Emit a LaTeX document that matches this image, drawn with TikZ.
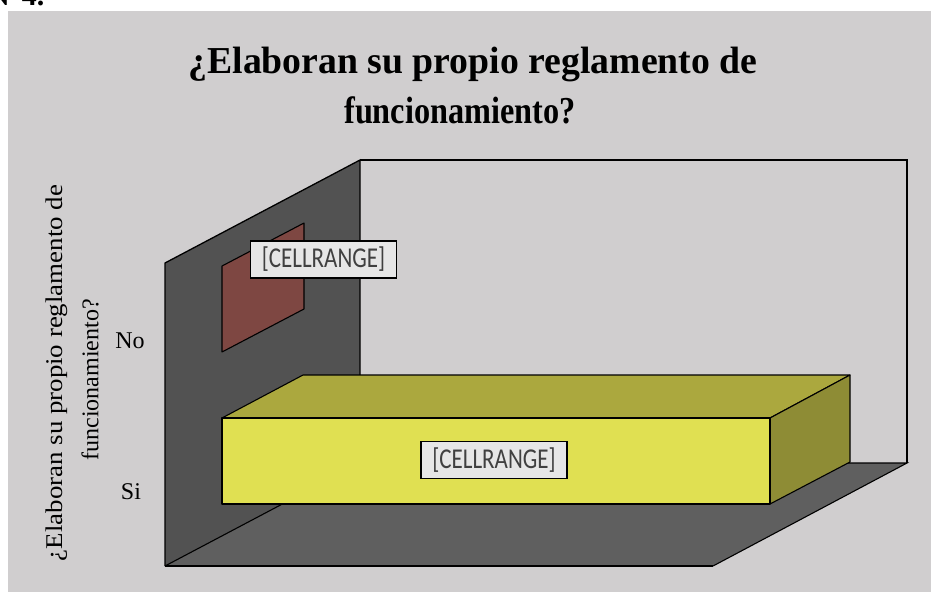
\documentclass[tikz,border=0pt]{standalone}
\usepackage{fontspec}
\setmainfont{Liberation Serif}
\newfontfamily\calib{Carlito}
\definecolor{bggray}{HTML}{D0CECF}
\definecolor{wallc}{HTML}{525252}
\definecolor{floorc}{HTML}{5F5F5F}
\definecolor{nobar}{HTML}{7E4742}
\definecolor{yfront}{HTML}{E0E052}
\definecolor{ytop}{HTML}{ABA83E}
\definecolor{yside}{HTML}{8E8C35}
\definecolor{lblfill}{HTML}{E6E6E6}
\definecolor{lbltext}{HTML}{404040}
\begin{document}
\begin{tikzpicture}[x=1pt,y=-1pt,
  face/.style={draw=black,line width=1.1pt,line join=round},
  datalabel/.style={draw=black,line width=1.2pt,fill=lblfill,text=lbltext,font=\calib\fontsize{23}{26}\selectfont,inner sep=0pt,minimum width=146pt,minimum height=37pt},
  axislbl/.style={font=\fontsize{24}{27}\selectfont,text=black,inner sep=0pt},
  titlelbl/.style={font=\bfseries\fontsize{34}{38}\selectfont,text=black,inner sep=0pt,anchor=base}]
\useasboundingbox (0,0) rectangle (931,592);
\fill[white] (0,0) rectangle (931,592);
% cut-off heading above the chart
\begin{scope}
\clip (0,0) rectangle (931,11);
\node[anchor=base west,inner sep=0pt,font=\bfseries\fontsize{30}{34}\selectfont] (hd) at (-12,5) {N°4.};
\end{scope}
% chart background
\fill[bggray] (8,11) rectangle (931,592);
% back wall (light)
\draw[line width=1.3pt] (360,160) -- (907,160) -- (907,463);
% left wall
\path[fill=wallc] (165,263) -- (360,160) -- (360,463) -- (165,566) -- cycle;
% floor
\path[fill=floorc] (165,566) -- (360,463) -- (907,463) -- (713,566) -- cycle;
\draw[line width=1.1pt] (165,566) -- (360,463);
\draw[line width=1.1pt] (360,463) -- (907,463) -- (713,566);
\draw[line width=1.3pt] (165,566) -- (713,566);
\draw[line width=1.3pt] (165,566) -- (165,263) -- (360,160) -- (360,463);
% No bar (zero length)
\draw[face,fill=nobar] (222,266) -- (304,223) -- (304,309) -- (222,352) -- cycle;
% Si bar
\draw[face,fill=ytop] (222,418) -- (303,375) -- (850,375) -- (770,418) -- cycle;
\draw[face,fill=yside] (770,418) -- (850,375) -- (850,462) -- (770,504) -- cycle;
\draw[face,fill=yfront] (222,418) rectangle (770,504);
% data labels
\node[datalabel] (lno) at (323.5,259.5) {\scalebox{1}[1.25]{[CELLRANGE]}};
\node[datalabel] (lsi) at (494,460) {\scalebox{1}[1.25]{[CELLRANGE]}};
% category labels
\node[axislbl] (cno) at (130,341) {No};
\node[axislbl] (csi) at (131,492) {Si};
% axis title
\node[axislbl,rotate=90] (atitle1) at (57,373) {\scalebox{1.12}[1]{¿Elaboran su propio reglamento de}};
\node[axislbl,rotate=90] (atitle2) at (90,380) {funcionamiento?};
% chart title
\node[titlelbl] (title1) at (473,73) {\scalebox{1.11}[1.12]{¿Elaboran su propio reglamento de}};
\node[titlelbl] (title2) at (460,123) {\scalebox{0.95}[1.12]{funcionamiento?}};
\end{tikzpicture}
\end{document}
